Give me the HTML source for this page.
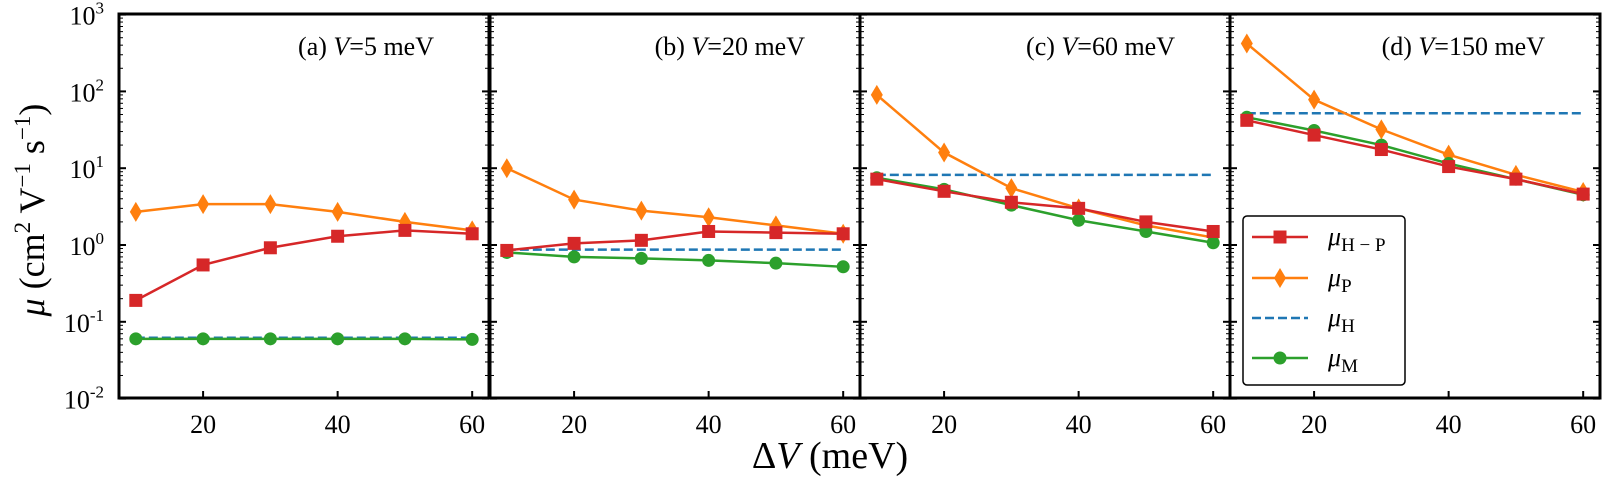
<!DOCTYPE html>
<html><head><meta charset="utf-8"><style>
html,body{margin:0;padding:0;background:#fff;}
svg{display:block;font-family:"Liberation Serif","DejaVu Serif",serif;}
</style></head><body>
<svg id="s" width="1602" height="479" xmlns="http://www.w3.org/2000/svg"></svg>
<script>
const s=document.getElementById('s');let h='';
const T=14,B=398,dec=76.8;
const Y=v=>245-dec*Math.log10(v);
const lefts=[119,490,860,1230],W=370;
const X=(p,x)=>lefts[p]+(x-7.5)*W/55;
const xs=[10,20,30,40,50,60];
const data=[
 {o:[2.7,3.4,3.4,2.7,2.0,1.55],r:[0.19,0.55,0.92,1.3,1.55,1.4],g:[0.06,0.06,0.06,0.06,0.06,0.059],b:0.062,t:"(a) ",v:"5"},
 {o:[10,3.9,2.8,2.3,1.8,1.4],r:[0.85,1.05,1.15,1.5,1.45,1.4],g:[0.8,0.7,0.67,0.63,0.58,0.52],b:0.87,t:"(b) ",v:"20"},
 {o:[90,16,5.5,3.0,1.8,1.25],r:[7.2,5,3.6,3,2,1.5],g:[7.5,5.3,3.3,2.1,1.5,1.07],b:8.2,t:"(c) ",v:"60"},
 {o:[420,78,32,15,8.2,4.9],r:[42,27,17.5,10.5,7.2,4.6],g:[46,31,20,11.5,7.2,4.5],b:52,t:"(d) ",v:"150"}];
const C={r:'#d62728',o:'#ff7f0e',b:'#1f77b4',g:'#2ca02c'};
function sq(x,y){return `<rect x="${x-6.5}" y="${y-6.5}" width="13" height="13" fill="${C.r}"/>`}
function di(x,y){return `<polygon points="${x},${y-10} ${x+6},${y} ${x},${y+10} ${x-6},${y}" fill="${C.o}"/>`}
function ci(x,y){return `<circle cx="${x}" cy="${y}" r="6.5" fill="${C.g}"/>`}
data.forEach((d,p)=>{
 const L=lefts[p],R=L+W;
 h+=`<line x1="${X(p,10)}" x2="${X(p,60)}" y1="${Y(d.b)}" y2="${Y(d.b)}" stroke="${C.b}" stroke-width="2.5" stroke-dasharray="9,4"/>`;
 const pl=(arr,c)=>`<polyline fill="none" stroke="${c}" stroke-width="2.5" points="${arr.map((v,i)=>X(p,xs[i])+','+Y(v)).join(' ')}"/>`;
 h+=pl(d.o,C.o);h+=pl(d.g,C.g);h+=pl(d.r,C.r);
 d.o.forEach((v,i)=>h+=di(X(p,xs[i]),Y(v)));
 d.g.forEach((v,i)=>h+=ci(X(p,xs[i]),Y(v)));
 d.r.forEach((v,i)=>h+=sq(X(p,xs[i]),Y(v)));
 for(let e=-2;e<=3;e++){const y=Y(Math.pow(10,e));
  h+=`<line x1="${L}" x2="${L+7}" y1="${y}" y2="${y}" stroke="#000" stroke-width="2"/><line x1="${R-7}" x2="${R}" y1="${y}" y2="${y}" stroke="#000" stroke-width="2"/>`;
  if(e<3)for(let m=2;m<10;m++){const ym=Y(m*Math.pow(10,e));h+=`<line x1="${L}" x2="${L+4}" y1="${ym}" y2="${ym}" stroke="#000" stroke-width="1"/><line x1="${R-4}" x2="${R}" y1="${ym}" y2="${ym}" stroke="#000" stroke-width="1"/>`;}
 }
 [20,40,60].forEach(x=>{const xx=X(p,x);h+=`<line x1="${xx}" x2="${xx}" y1="${B}" y2="${B-7}" stroke="#000" stroke-width="2"/><text x="${xx}" y="${B+35}" font-size="26" text-anchor="middle">${x}</text>`;});
 h+=`<rect x="${L}" y="${T}" width="${W}" height="${B-T}" fill="none" stroke="#000" stroke-width="3"/>`;
 h+=`<text x="${R-55}" y="55" font-size="26" text-anchor="end">${d.t}<tspan font-style="italic">V</tspan>=${d.v} meV</text>`;
});
for(let e=-2;e<=3;e++){const y=Y(Math.pow(10,e));h+=`<text x="104" y="${y+10}" font-size="26" text-anchor="end">10<tspan dy="-11" font-size="17">${e}</tspan></text>`;}
h+=`<text transform="translate(44,210) rotate(-90)" font-size="36" text-anchor="middle"><tspan font-style="italic">μ</tspan> (cm<tspan dy="-14" font-size="23">2</tspan><tspan dy="14"> V</tspan><tspan dy="-14" font-size="23">−1</tspan><tspan dy="14"> s</tspan><tspan dy="-14" font-size="23">−1</tspan><tspan dy="14">)</tspan></text>`;
h+=`<text x="830" y="468" font-size="38" text-anchor="middle">Δ<tspan font-style="italic">V</tspan> (meV)</text>`;
h+=`<rect x="1243" y="216" width="162" height="169" rx="4" fill="#fff" stroke="#000" stroke-width="1.5"/>`;
const ly=[237,278,318,358];
h+=`<line x1="1252" x2="1308" y1="${ly[0]}" y2="${ly[0]}" stroke="${C.r}" stroke-width="2.5"/>`+sq(1280,ly[0]);
h+=`<line x1="1252" x2="1308" y1="${ly[1]}" y2="${ly[1]}" stroke="${C.o}" stroke-width="2.5"/>`+di(1280,ly[1]);
h+=`<line x1="1252" x2="1308" y1="${ly[2]}" y2="${ly[2]}" stroke="${C.b}" stroke-width="2.5" stroke-dasharray="9,4"/>`;
h+=`<line x1="1252" x2="1308" y1="${ly[3]}" y2="${ly[3]}" stroke="${C.g}" stroke-width="2.5"/>`+ci(1280,ly[3]);
['H − P','P','H','M'].forEach((t,i)=>{h+=`<text x="1328" y="${ly[i]+8}" font-size="26"><tspan font-style="italic">μ</tspan><tspan dy="6" font-size="19">${t}</tspan></text>`;});
s.innerHTML=h;
</script>
</body></html>
